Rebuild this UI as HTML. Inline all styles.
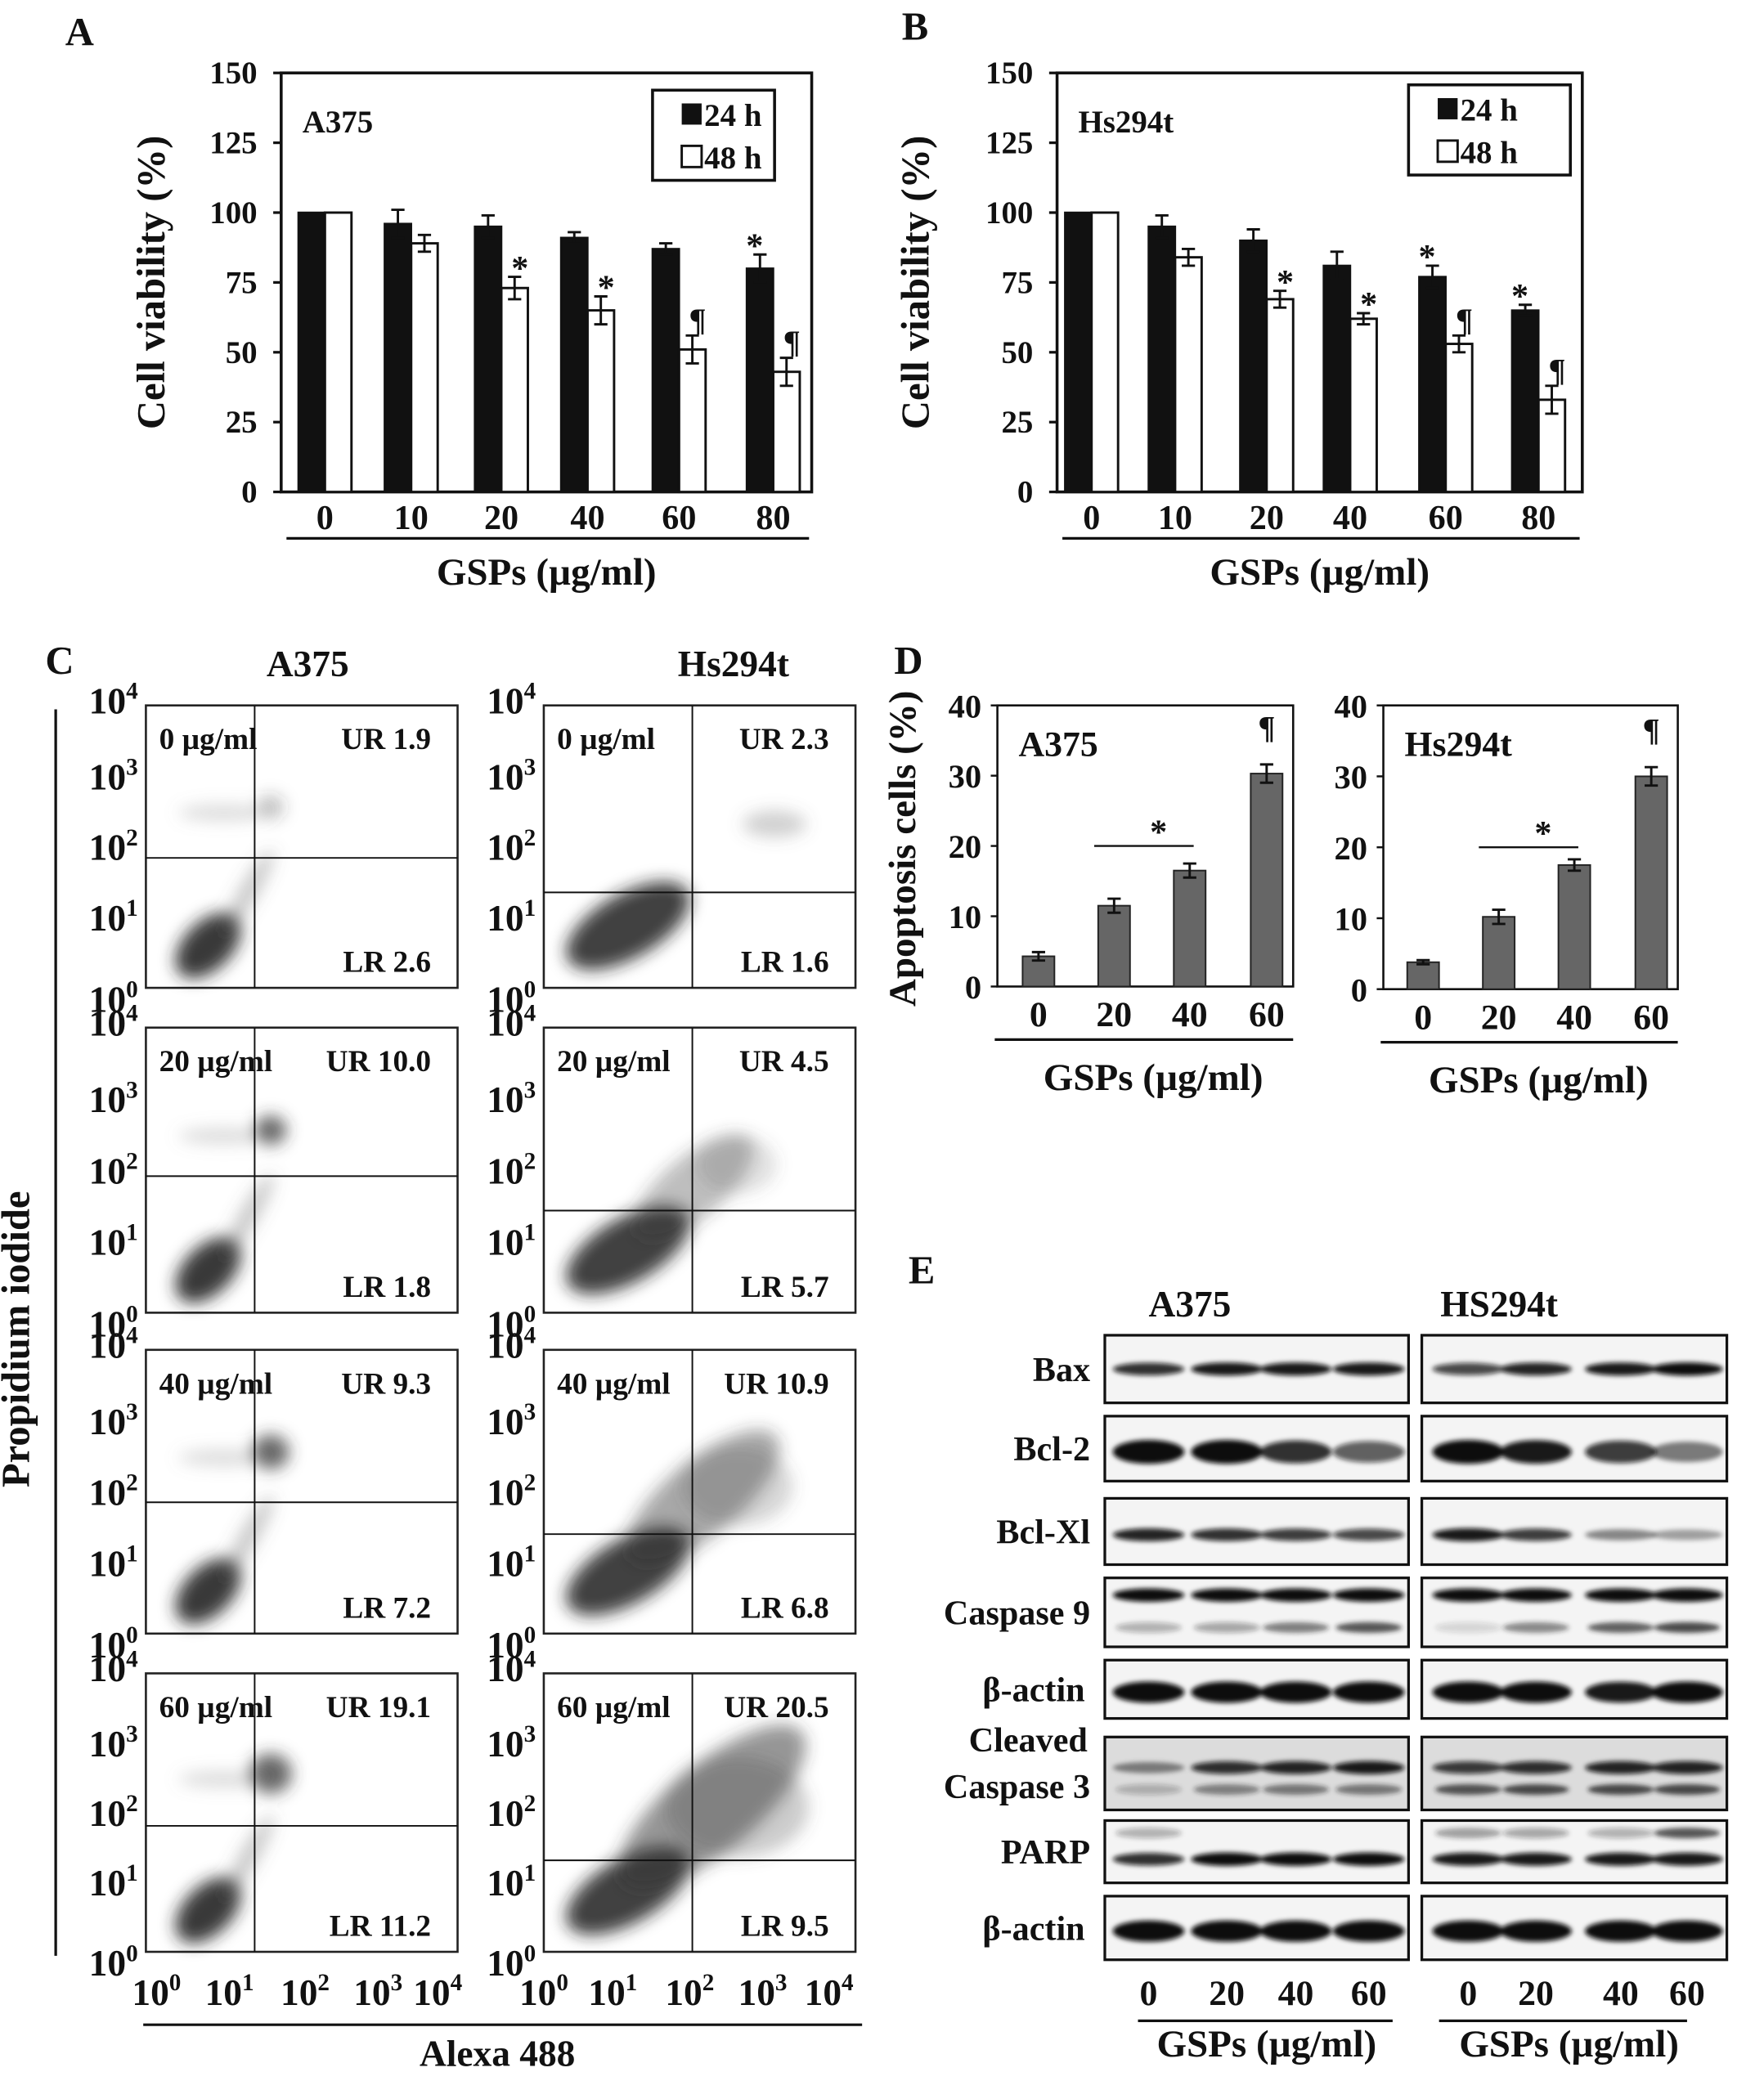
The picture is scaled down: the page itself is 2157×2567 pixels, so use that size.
<!DOCTYPE html>
<html><head><meta charset="utf-8">
<style>
html,body{margin:0;padding:0;background:#fff;}
svg{display:block;}
text{font-family:"Liberation Serif",serif;font-weight:bold;fill:#111;}
</style></head>
<body>
<svg id="fig" xmlns="http://www.w3.org/2000/svg" width="2157" height="2567" viewBox="0 0 1330 1583" preserveAspectRatio="none">
<defs>
<filter id="blur6" x="-50%" y="-50%" width="200%" height="200%"><feGaussianBlur stdDeviation="6"/></filter>
<filter id="blur2" x="-50%" y="-50%" width="200%" height="200%"><feGaussianBlur stdDeviation="1.8"/></filter>
</defs>
<g id="root"></g>
</svg>
<script>
// ---------- data ----------
const doseA = ['0','10','20','40','60','80'];
const a24 = [100,96,95,91,87,80];
const a24err = [0,5,4,2,2,5];
const a48 = [100,89,73,65,51,43];
const a48err = [0,3,4,5,5,5];
const b24 = [100,95,90,81,77,65];
const b24err = [0,4,4,5,4,2];
const b48 = [100,84,69,62,53,33];
const b48err = [0,3,3,2,3,5];
const viabTicks = [0,25,50,75,100,125,150];
const doseD = ['0','20','40','60'];
const dA = [4.3,11.5,16.5,30.3];
const dAerr = [0.6,1.0,1.0,1.3];
const dB = [3.8,10.2,17.5,30.0];
const dBerr = [0.3,1.0,0.8,1.3];
const apoTicks = [0,10,20,30,40];
const flowDoses = ['0 µg/ml','20 µg/ml','40 µg/ml','60 µg/ml'];
const flowURa = ['UR 1.9','UR 10.0','UR 9.3','UR 19.1'];
const flowLRa = ['LR 2.6','LR 1.8','LR 7.2','LR 11.2'];
const flowURb = ['UR 2.3','UR 4.5','UR 10.9','UR 20.5'];
const flowLRb = ['LR 1.6','LR 5.7','LR 6.8','LR 9.5'];
const blotNames = ['Bax','Bcl-2','Bcl-Xl','Caspase 9','β-actin','Cleaved Caspase 3','PARP','β-actin'];
const blotA = [[0.85,0.95,0.95,0.95],[1,1,0.85,0.65],[0.9,0.85,0.8,0.75],[1,1,1,1],[1,1,1,1],[0.45,0.85,0.9,0.95],[0.85,1,1,1],[1,1,1,1]];
const blotB = [[0.75,0.9,0.95,1],[1,0.95,0.8,0.5],[0.95,0.8,0.45,0.35],[1,1,1,1],[1,1,0.95,1],[0.8,0.85,0.9,0.9],[0.95,0.95,0.95,0.95],[1,1,1,1]];
const blotA2 = [null,null,null,[0.3,0.35,0.55,0.75],null,[0.25,0.5,0.55,0.55],[0.3,0,0,0],null];
const blotB2 = [null,null,null,[0.15,0.5,0.7,0.8],null,[0.75,0.8,0.8,0.8],[0.4,0.35,0.3,0.75],null];

// ---------- helpers ----------
const NS='http://www.w3.org/2000/svg';
const root=document.getElementById('root');
function el(tag,attrs,parent){const e=document.createElementNS(NS,tag);for(const k in attrs)e.setAttribute(k,attrs[k]);(parent||root).appendChild(e);return e;}
function txt(x,y,s,size,anchor,parent){const t=el('text',{x:x,y:y,'font-size':size,'text-anchor':anchor||'middle'},parent);t.textContent=s;return t;}
function line(x1,y1,x2,y2,w,parent){return el('line',{x1:x1,y1:y1,x2:x2,y2:y2,stroke:'#111','stroke-width':w||1.5},parent);}

[['A',60,34],['B',690,30],['C',45,508],['D',685,508],['E',695,968]].forEach(p=>{
  const t=txt(p[1],p[2],p[0],30,'middle');
  
  
});

// ---------- viability charts ----------
function viability(cfg){
  const g=el('g',{});
  
  
  const y=v=>cfg.bot-(v/150)*(cfg.bot-cfg.top);
  el('rect',{x:cfg.left,y:cfg.top,width:cfg.right-cfg.left,height:cfg.bot-cfg.top,fill:'none',stroke:'#111','stroke-width':2.2},g);
  viabTicks.forEach(t=>{
    line(cfg.left-6,y(t),cfg.left,y(t),2,g);
    const tl=txt(cfg.left-18,y(t)+8,String(t),24,'end',g);
    
    
  });
  const yl=txt(0,0,'Cell viability (%)',30,'middle',g);
  yl.setAttribute('transform','translate('+cfg.ylx+','+((cfg.top+cfg.bot)/2)+') rotate(-90)');
  
  
  cfg.centers.forEach((c,i)=>{
    const v1=cfg.s24[i],v2=cfg.s48[i];
    const r1=el('rect',{x:c-20,y:y(v1),width:20,height:cfg.bot-y(v1),fill:'#111',stroke:'#111','stroke-width':1.5},g);
    
    
    const r2=el('rect',{x:c,y:y(v2),width:20,height:cfg.bot-y(v2),fill:'#fff',stroke:'#111','stroke-width':1.8},g);
    
    
    [[c-10,v1,cfg.e24[i]],[c+10,v2,cfg.e48[i]]].forEach(e=>{
      if(!e[2])return;
      line(e[0],y(e[1]+e[2]),e[0],y(e[1]-e[2]),1.8,g);
      line(e[0]-5,y(e[1]+e[2]),e[0]+5,y(e[1]+e[2]),1.8,g);
      line(e[0]-5,y(e[1]-e[2]),e[0]+5,y(e[1]-e[2]),1.8,g);
    });
    const xl=txt(c,cfg.bot+28,doseA[i],26,'middle',g);
    
    
  });
  cfg.marks.forEach(m=>{
    const i=m[0],ser=m[1],s=m[2];
    const c=cfg.centers[i]+(ser===24?-10:10);
    const v=ser===24?cfg.s24[i]+cfg.e24[i]:cfg.s48[i]+cfg.e48[i];
    txt(c+(ser===24?-4:4),y(v)-(s==='*'?-2:4),s,s==='*'?26:24,'middle',g).setAttribute('fill','#333');
  });
  line(cfg.left+4,cfg.bot+35,cfg.right-2,cfg.bot+35,2,g);
  txt((cfg.left+cfg.right)/2,cfg.bot+70,'GSPs (µg/ml)',29,'middle',g);
  txt(cfg.left+16,cfg.top+45,cfg.cell,24,'start',g);
  const lg=el('g',{},g);
  
  
  el('rect',{x:cfg.lg[0],y:cfg.lg[1],width:cfg.lg[2],height:68,fill:'#fff',stroke:'#111','stroke-width':2.2},lg);
  el('rect',{x:cfg.lg[0]+22,y:cfg.lg[1]+10,width:15,height:16,fill:'#111'},lg);
  el('rect',{x:cfg.lg[0]+22,y:cfg.lg[1]+42,width:15,height:16,fill:'#fff',stroke:'#111','stroke-width':1.8},lg);
  txt(cfg.lg[0]+39,cfg.lg[1]+27,'24 h',24,'start',lg);
  txt(cfg.lg[0]+39,cfg.lg[1]+59,'48 h',24,'start',lg);
}
viability({name:'chart-a-viability',left:212,right:612,top:55,bot:371,ylx:124,centers:[245,310,378,443,512,583],
  s24:a24,e24:a24err,s48:a48,e48:a48err,cell:'A375',lg:[492,68,92],
  marks:[[2,48,'*'],[3,48,'*'],[4,48,'¶'],[5,48,'¶'],[5,24,'*']]});
viability({name:'chart-b-viability',left:797,right:1193,top:55,bot:371,ylx:700,centers:[823,886,955,1018,1090,1160],
  s24:b24,e24:b24err,s48:b48,e48:b48err,cell:'Hs294t',lg:[1062,64,122],
  marks:[[2,48,'*'],[3,48,'*'],[4,48,'¶'],[5,48,'¶'],[4,24,'*'],[5,24,'*']]});

// ---------- panel C flow ----------
(function(){
  const g=el('g',{});
  
  
  txt(232,510,'A375',28,'middle',g);
  txt(553,510,'Hs294t',28,'middle',g);
  line(42,535,42,1475,2,g);
  const pi=txt(0,0,'Propidium iodide',30,'middle',g);
  pi.setAttribute('transform','translate(22,1010) rotate(-90)');
  const tops=[532,775,1018,1262], bots=[745,990,1232,1472];
  const cols=[{l:110,r:345,vx:192,hy:[647,887,1133,1377],ur:flowURa,lr:flowLRa,type:'a'},
              {l:410,r:645,vx:522,hy:[673,913,1157,1403],ur:flowURb,lr:flowLRb,type:'b'}];
  cols.forEach((c,ci)=>{
    for(let r=0;r<4;r++){
      const p=el('g',{},g);
      
      
      const T=tops[r],B=bots[r],w=c.r-c.l,h=B-T;
      const cl=el('g',{filter:'url(#blur6)'},p);
      if(c.type==='a'){
        const cx=c.l+w*0.2, cy=T+h*0.85;
        el('ellipse',{cx:cx,cy:cy,rx:30,ry:18,fill:'#222',opacity:0.9,transform:'rotate(-45 '+cx+' '+cy+')'},cl);
        const x2=c.l+w*0.33, y2=T+h*0.66;
        el('ellipse',{cx:x2,cy:y2,rx:7,ry:36,fill:'#666',opacity:0.35,transform:'rotate(30 '+x2+' '+y2+')'},cl);
        el('ellipse',{cx:c.l+w*0.4,cy:T+h*0.36,rx:10+2*r,ry:9+2*r,fill:'#333',opacity:r>0?0.75:0.3},cl);
        el('ellipse',{cx:c.l+w*0.25,cy:T+h*0.38,rx:34,ry:6,fill:'#888',opacity:0.3},cl);
      } else {
        const cx=c.l+w*0.27, cy=T+h*0.78;
        el('ellipse',{cx:cx,cy:cy,rx:52,ry:24,fill:'#222',opacity:0.85,transform:'rotate(-30 '+cx+' '+cy+')'},cl);
        if(r>0){
          const x2=c.l+w*(0.45+0.03*r), y2=T+h*(0.6-0.04*r);
          el('ellipse',{cx:x2,cy:y2,rx:40+16*r,ry:18+5*r,fill:'#333',opacity:0.22+0.1*r,transform:'rotate(-40 '+x2+' '+y2+')'},cl);
          el('ellipse',{cx:c.l+w*0.62,cy:T+h*0.48,rx:18+12*r,ry:14+8*r,fill:'#555',opacity:0.12+0.06*r},cl);
        } else el('ellipse',{cx:c.l+w*0.74,cy:T+h*0.42,rx:24,ry:10,fill:'#666',opacity:0.3},cl);
      }
      el('rect',{x:c.l,y:T,width:w,height:h,fill:'none',stroke:'#222','stroke-width':1.6},p);
      line(c.vx,T,c.vx,B,1.2,p);
      line(c.l,c.hy[r],c.r,c.hy[r],1.2,p);
      txt(c.l+10,T+33,flowDoses[r],23,'start',p);
      txt(c.r-20,T+33,c.ur[r],23,'end',p);
      txt(c.r-20,B-12,c.lr[r],23,'end',p);
      for(let d=0;d<5;d++){
        const yy=B-d*h/4;
        const t=el('text',{x:c.l-6,y:yy+(d===0?18:d===4?6:10),'font-size':28,'text-anchor':'end','font-weight':'normal'},p);
        t.textContent='10';
        const s=el('tspan',{'font-size':18,dy:-11},t);s.textContent=String(d);
      }
    }
  });
  const xa=[[118,173,230,285,330],[410,462,520,575,625]];
  xa.forEach(arr=>arr.forEach((x,d)=>{
    const t=el('text',{x:x,y:1512,'font-size':28,'text-anchor':'middle','font-weight':'normal'},g);
    t.textContent='10';
    const s=el('tspan',{'font-size':18,dy:-11},t);s.textContent=String(d);
  }));
  line(108,1527,650,1527,2,g);
  txt(375,1558,'Alexa 488',28,'middle',g);
})();

// ---------- panel D ----------
function apo(cfg){
  const g=el('g',{});
  
  
  const y=v=>cfg.bot-(v/40)*(cfg.bot-cfg.top);
  el('rect',{x:cfg.left,y:cfg.top,width:cfg.right-cfg.left,height:cfg.bot-cfg.top,fill:'none',stroke:'#111','stroke-width':1.6},g);
  apoTicks.forEach(t=>{
    line(cfg.left-5,y(t),cfg.left,y(t),1.5,g);
    txt(cfg.left-12,y(t)+9,String(t),25,'end',g);
  });
  cfg.centers.forEach((c,i)=>{
    const v=cfg.vals[i],e=cfg.errs[i];
    const b=el('rect',{x:c-12,y:y(v),width:24,height:cfg.bot-y(v),fill:'#666',stroke:'#222','stroke-width':1.2},g);
    
    
    line(c,y(v+e),c,y(v-e),1.8,g);
    line(c-5,y(v+e),c+5,y(v+e),1.8,g);
    line(c-5,y(v-e),c+5,y(v-e),1.8,g);
    txt(c,cfg.bot+30,doseD[i],27,'middle',g);
  });
  line(cfg.centers[1]-15,y(20),cfg.centers[2]+3,y(20),1.5,g);
  txt((cfg.centers[1]+cfg.centers[2])/2+5,y(20)-2,'*',26,'middle',g);
  txt(cfg.centers[3],y(cfg.vals[3]+cfg.errs[3])-20,'¶',24,'middle',g).setAttribute('fill','#444');
  txt(cfg.left+16,cfg.top+38,cfg.cell,27,'start',g);
  line(cfg.left-2,cfg.bot+40,cfg.right,cfg.bot+40,2,g);
  txt((cfg.left+cfg.right)/2+6,cfg.bot+78,'GSPs (µg/ml)',29,'middle',g);
}
const ya=txt(0,0,'Apoptosis cells (%)',29,'middle');
ya.setAttribute('transform','translate(690,640) rotate(-90)');


apo({name:'chart-d-a375',left:752,right:975,top:532,bot:744,centers:[783,840,897,955],vals:dA,errs:dAerr,cell:'A375'});
apo({name:'chart-d-hs294t',left:1043,right:1265,top:532,bot:746,centers:[1073,1130,1187,1245],vals:dB,errs:dBerr,cell:'Hs294t'});

// ---------- panel E ----------
(function(){
  const g=el('g',{});
  
  
  txt(866,993,'A375',28,'start',g);
  txt(1086,993,'HS294t',28,'start',g);
  const rows=[[1007,1058],[1068,1117],[1130,1180],[1190,1242],[1252,1296],[1310,1365],[1373,1420],[1430,1478]];
  const mainY=[0.5,0.55,0.55,0.25,0.55,0.42,0.62,0.55];
  const secY=[0,0,0,0.72,0,0.72,0.2,0];
  const lanesA=[866,925,977,1032], lanesB=[1107,1158,1222,1272];
  rows.forEach((r,i)=>{
    const h=r[1]-r[0];
    if(i===5){txt(820,1321,'Cleaved',26,'end',g);txt(822,1356,'Caspase 3',26,'end',g);}
    else txt(i===4||i===7?818:822,(r[0]+r[1])/2+9,blotNames[i],26,'end',g);
    [[833,1062,lanesA,blotA,blotA2],[1072,1302,lanesB,blotB,blotB2]].forEach(c=>{
      const bg=el('g',{},g);
      
      
      el('rect',{x:c[0],y:r[0],width:c[1]-c[0],height:h,fill:i===5?'#dcdcdc':'#f4f4f4',stroke:'#111','stroke-width':2},bg);
      const bl=el('g',{filter:'url(#blur2)'},bg);
      c[2].forEach((lx,li)=>{
        const v=c[3][i][li];
        const thick=(i===1?18:i===4||i===7?16:10)*(0.7+0.3*v);
        el('ellipse',{cx:lx,cy:r[0]+h*mainY[i],rx:27,ry:thick/2,fill:'#0a0a0a',opacity:v},bl);
        if(c[4][i]){
          const v2=c[4][i][li];
          if(v2>0)el('ellipse',{cx:lx,cy:r[0]+h*secY[i],rx:25,ry:4,fill:'#222',opacity:v2},bl);
        }
      });
    });
  });
  [lanesA,lanesB].forEach(L=>L.forEach((x,i)=>txt(x,1512,doseD[i],27,'middle',g)));
  line(858,1524,1050,1524,2,g);
  line(1085,1524,1272,1524,2,g);
  txt(955,1551,'GSPs (µg/ml)',29,'middle',g);
  txt(1183,1551,'GSPs (µg/ml)',29,'middle',g);
})();
</script>
</body></html>
